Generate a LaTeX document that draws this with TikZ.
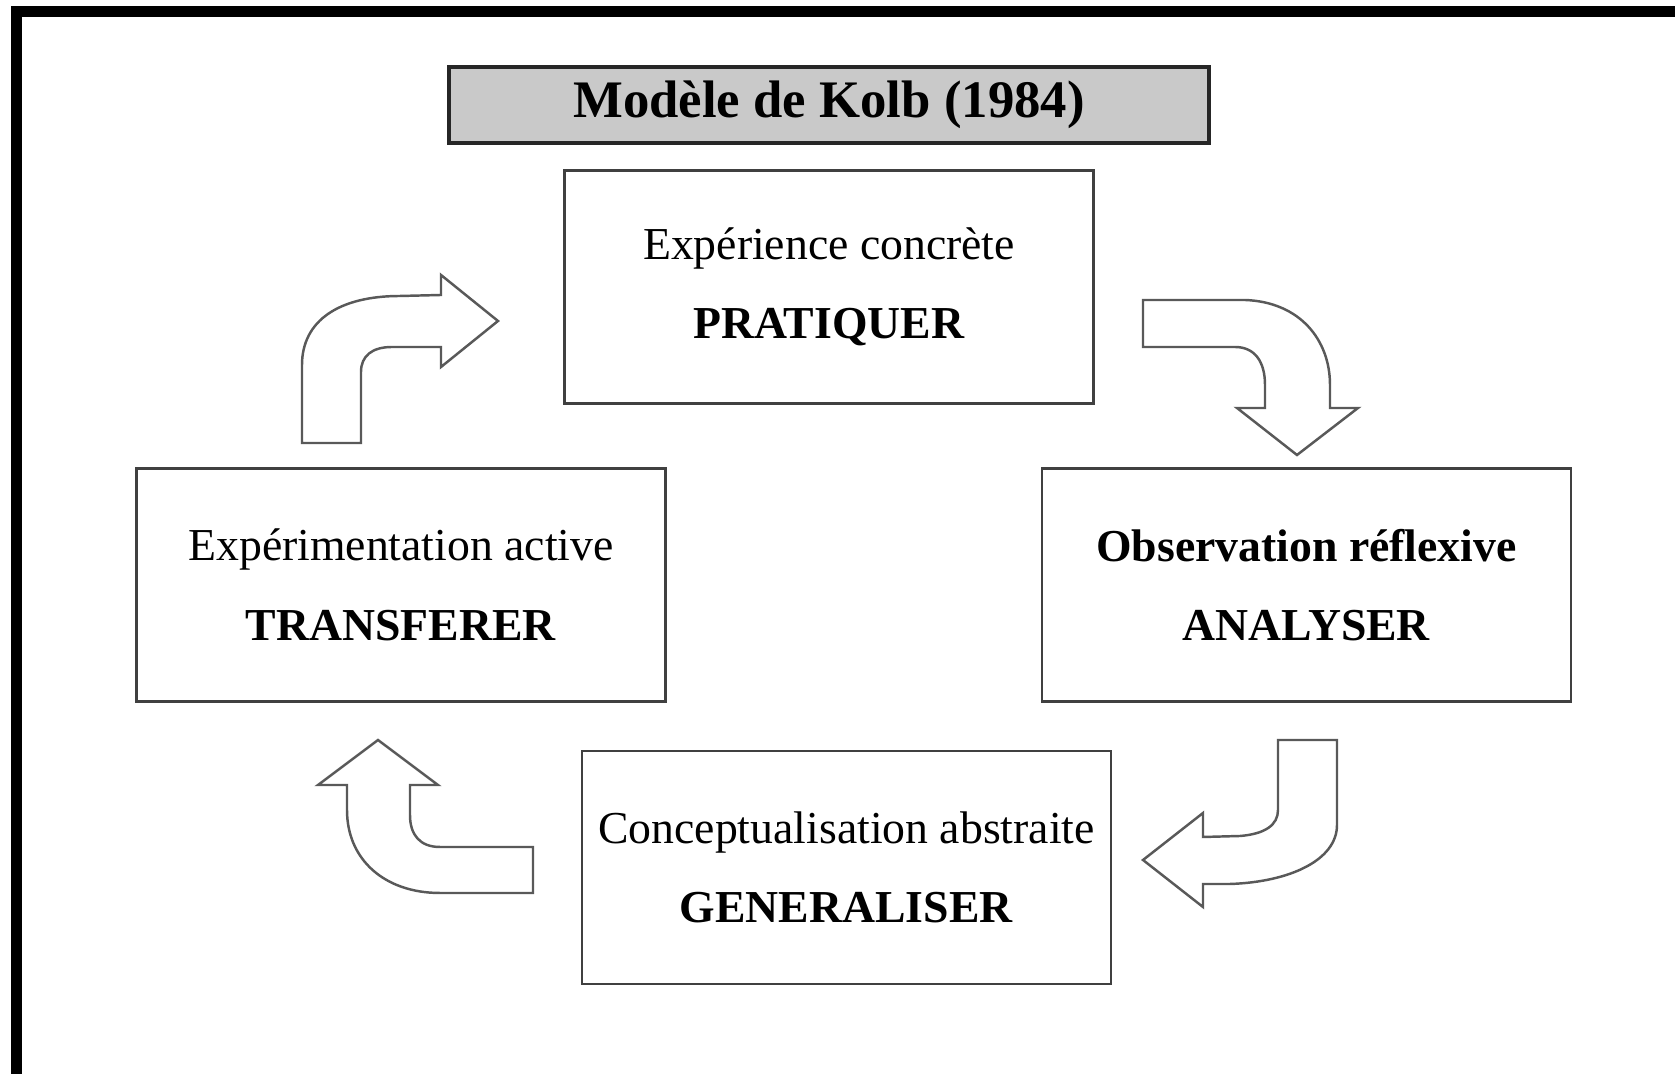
\documentclass[tikz,border=0pt]{standalone}
\usepackage{fontspec}
\setmainfont{Liberation Serif}
\usepackage{tikz}

\begin{document}
\begin{tikzpicture}[x=0.01cm, y=-0.01cm]
		\tikzstyle{Box}   = [rectangle, draw=black!75, line width=0.7pt, fill=white, minimum width=5.29cm, minimum height=2.33cm, inner sep=0pt, align=center, font=\fontsize{13}{15.6}\selectfont]
		\tikzstyle{Title} = [rectangle, draw=black!85, line width=1.1pt, fill=black!21, minimum width=7.6cm, minimum height=0.76cm, inner sep=0pt, font=\fontsize{15}{18}\selectfont\bfseries]
		\tikzstyle{Bent}  = [draw=black!65, line width=0.7pt, fill=white, line join=miter]
		\tikzstyle{Frame} = [line width=2.9pt]

		\useasboundingbox (0,0) rectangle (1675,1074);
		\draw (16.5,1074) -- (16.5,11.5) -- (1675,11.5) [Frame];

		\node (kolb) at (829,105) [Title] {Modèle de Kolb (1984)};
		\node (pratiquer) at (829,287) [Box] {Expérience concrète\\[7pt]\textbf{PRATIQUER}};
		\node (analyser) at (1306.5,585) [Box] {\textbf{Observation réflexive}\\[7pt]\textbf{ANALYSER}};
		\node (generaliser) at (846.5,867.5) [Box] {Conceptualisation abstraite\\[7pt]\textbf{GENERALISER}};
		\node (transferer) at (401,585) [Box] {Expérimentation active\\[7pt]\textbf{TRANSFERER}};

		\draw (302,443) -- (302,365) .. controls (302,320) and (340,296) .. (400,296) -- (441,295) -- (441,275) -- (498,321) -- (441,367) -- (441,347) -- (392,347) .. controls (372,347) and (361,356) .. (361,372) -- (361,443) -- cycle [Bent];
		\draw (1143,300) -- (1245,300) .. controls (1300,302) and (1330,340) .. (1330,385) -- (1330,408) -- (1358,408) -- (1297,455) -- (1237,408) -- (1265,408) -- (1265,385) .. controls (1265,362) and (1255,347) .. (1235,347) -- (1143,347) -- cycle [Bent];
		\draw (1278,740) -- (1337,740) -- (1337,825) .. controls (1337,860) and (1290,882) .. (1230,884) -- (1203,884) -- (1203,907) -- (1143,860) -- (1203,813) -- (1203,837) -- (1240,836) .. controls (1265,834) and (1278,825) .. (1278,810) -- cycle [Bent];
		\draw (533,847) -- (533,893) -- (440,893) .. controls (385,893) and (347,860) .. (347,810) -- (347,785) -- (318,785) -- (378,740) -- (438,785) -- (410,785) -- (410,815) .. controls (410,835) and (420,847) .. (440,847) -- cycle [Bent];
	\end{tikzpicture}
\end{document}
